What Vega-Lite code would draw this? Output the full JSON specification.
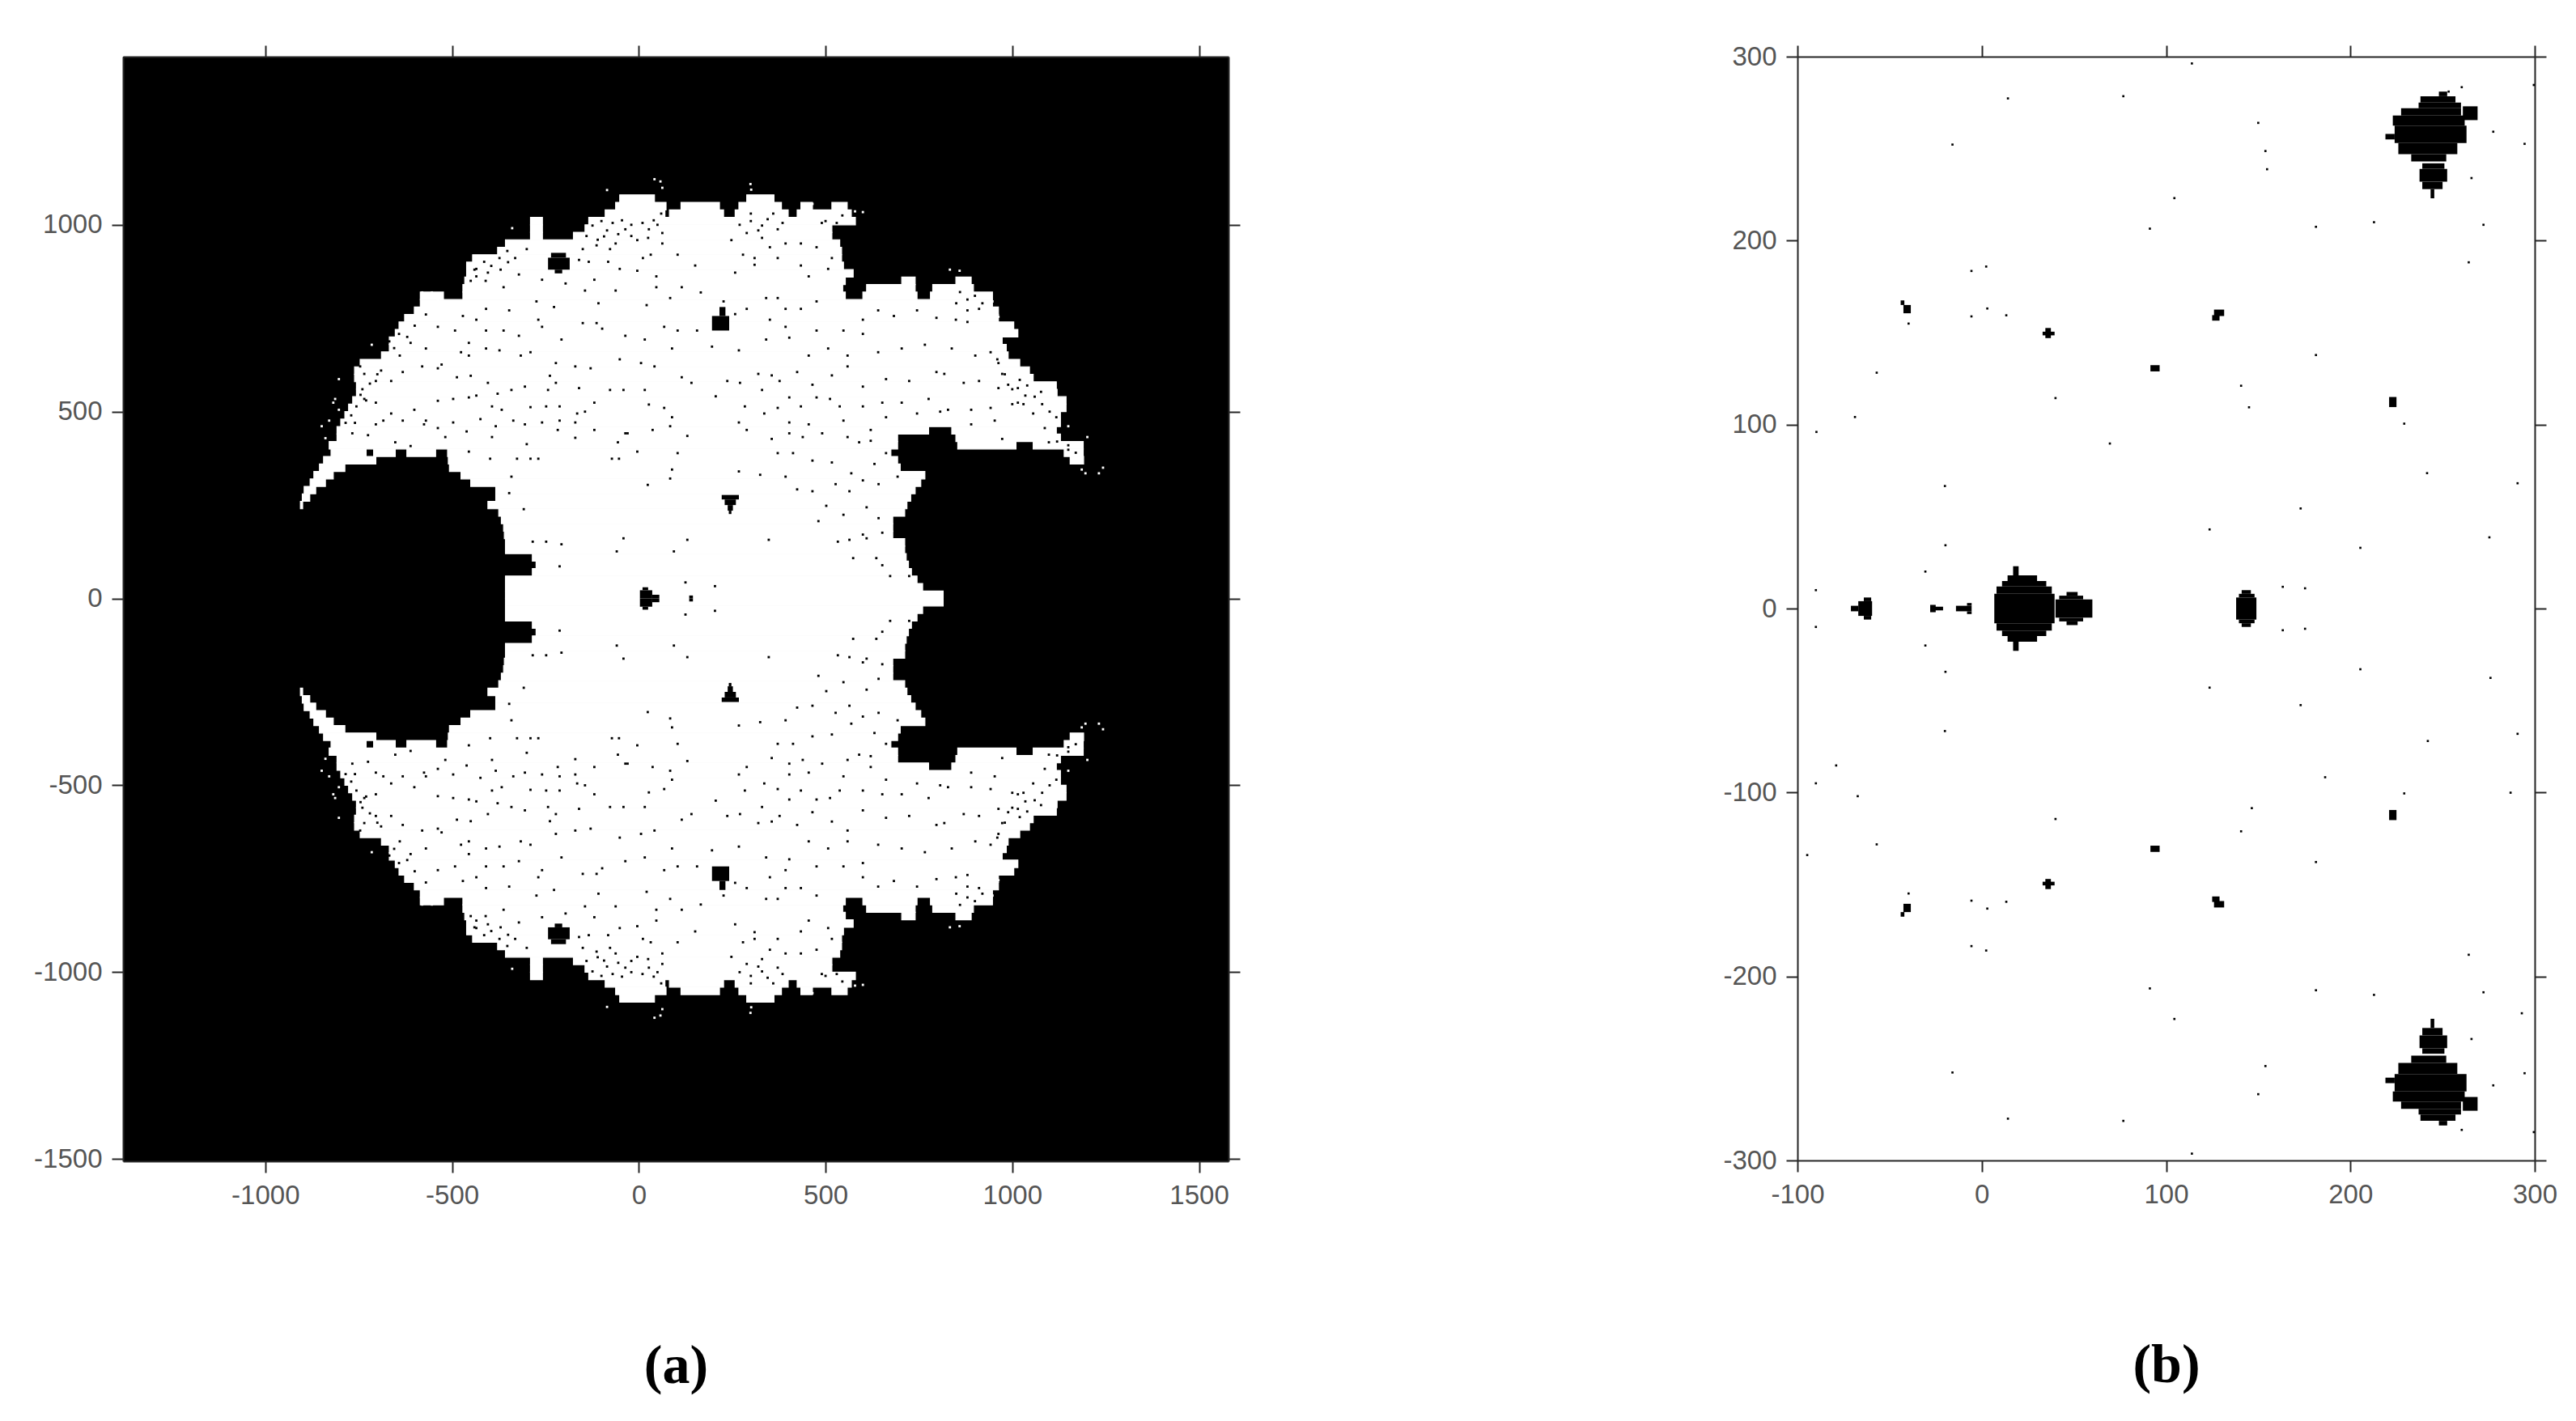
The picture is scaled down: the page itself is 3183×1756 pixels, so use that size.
{"$schema":"https://vega.github.io/schema/vega-lite/v6.json","background":"white","padding":{"left":41,"top":54,"right":10,"bottom":10},"bounds":"flush","spacing":703,
"config":{"axis":{"grid":false,"domainColor":"#262626","tickColor":"#262626","domainWidth":2,"tickWidth":2,"tickSize":14,"labelColor":"#555555","labelFont":"Liberation Sans","labelFontSize":33,"labelPadding":12,"labelFlush":false,"labelOverlap":false,"format":"d","titleFont":"Liberation Serif","titleFontWeight":"bold","titleFontSize":68,"titleColor":"#000000","titlePadding":160}},
"datasets":{
"a_white":[
{"x":-357,"x2":815,"y":0,"y2":20},{"x":-357,"x2":760,"y":20,"y2":40},{"x":-357,"x2":745,"y":40,"y2":60},{"x":-285,"x2":730,"y":60,"y2":80},{"x":-275,"x2":722,"y":80,"y2":100},{"x":-285,"x2":716,"y":100,"y2":120},{"x":-357,"x2":712,"y":120,"y2":140},{"x":-357,"x2":712,"y":140,"y2":160},{"x":-360,"x2":680,"y":160,"y2":180},{"x":-362,"x2":680,"y":180,"y2":200},{"x":-368,"x2":680,"y":200,"y2":220},{"x":-375,"x2":712,"y":220,"y2":240},{"x":-404,"x2":718,"y":240,"y2":260},{"x":-906,"x2":-900,"y":240,"y2":260},{"x":-383,"x2":728,"y":260,"y2":280},{"x":-901,"x2":-881,"y":260,"y2":280},{"x":-383,"x2":740,"y":280,"y2":300},{"x":-896,"x2":-865,"y":280,"y2":300},{"x":-450,"x2":755,"y":300,"y2":320},{"x":-880,"x2":-839,"y":300,"y2":320},{"x":-476,"x2":766,"y":320,"y2":340},{"x":-870,"x2":-818,"y":320,"y2":340},{"x":-507,"x2":700,"y":340,"y2":360},{"x":-855,"x2":-787,"y":340,"y2":360},{"x":-510,"x2":693,"y":360,"y2":380},{"x":-844,"x2":-704,"y":360,"y2":380},{"x":1155,"x2":1191,"y":360,"y2":380},{"x":-512,"x2":675,"y":380,"y2":400},{"x":-621,"x2":-544,"y":380,"y2":400},{"x":-710,"x2":-652,"y":380,"y2":400},{"x":-824,"x2":-730,"y":380,"y2":400},{"x":1139,"x2":1190,"y":380,"y2":400},{"x":-829,"x2":693,"y":400,"y2":420},{"x":854,"x2":1010,"y":400,"y2":420},{"x":1056,"x2":1190,"y":400,"y2":420},{"x":-808,"x2":693,"y":420,"y2":440},{"x":849,"x2":1129,"y":420,"y2":440},{"x":-808,"x2":776,"y":440,"y2":460},{"x":838,"x2":1118,"y":440,"y2":460},{"x":-798,"x2":1129,"y":460,"y2":480},{"x":-787,"x2":1129,"y":480,"y2":500},{"x":-777,"x2":1144,"y":500,"y2":520},{"x":-766,"x2":1144,"y":520,"y2":540},{"x":-756,"x2":1120,"y":540,"y2":560},{"x":-756,"x2":1118,"y":560,"y2":580},{"x":-761,"x2":1056,"y":580,"y2":600},{"x":-761,"x2":1046,"y":600,"y2":620},{"x":-746,"x2":1020,"y":620,"y2":640},{"x":-689,"x2":989,"y":640,"y2":660},{"x":-668,"x2":984,"y":660,"y2":680},{"x":-668,"x2":973,"y":680,"y2":700},{"x":-652,"x2":1015,"y":700,"y2":720},{"x":-642,"x2":1004,"y":720,"y2":740},{"x":-627,"x2":963,"y":740,"y2":760},{"x":-601,"x2":963,"y":760,"y2":780},{"x":-585,"x2":947,"y":780,"y2":800},{"x":-585,"x2":-523,"y":800,"y2":820},{"x":-471,"x2":553,"y":800,"y2":820},{"x":600,"x2":745,"y":800,"y2":820},{"x":781,"x2":947,"y":800,"y2":820},{"x":-471,"x2":546,"y":820,"y2":840},{"x":610,"x2":740,"y":820,"y2":840},{"x":787,"x2":896,"y":820,"y2":840},{"x":-466,"x2":553,"y":840,"y2":860},{"x":704,"x2":740,"y":840,"y2":860},{"x":849,"x2":890,"y":840,"y2":860},{"x":-461,"x2":574,"y":860,"y2":880},{"x":-461,"x2":548,"y":880,"y2":900},{"x":-445,"x2":543,"y":900,"y2":920},{"x":-378,"x2":543,"y":920,"y2":940},{"x":-357,"x2":538,"y":940,"y2":960},{"x":-290,"x2":-258,"y":960,"y2":980},{"x":-175,"x2":517,"y":960,"y2":980},{"x":-290,"x2":-258,"y":980,"y2":1000},{"x":-144,"x2":517,"y":980,"y2":1000},{"x":-290,"x2":-258,"y":1000,"y2":1020},{"x":-134,"x2":580,"y":1000,"y2":1020},{"x":-90,"x2":70,"y":1020,"y2":1040},{"x":82,"x2":227,"y":1020,"y2":1040},{"x":258,"x2":400,"y":1020,"y2":1040},{"x":424,"x2":569,"y":1020,"y2":1040},{"x":-62,"x2":73,"y":1040,"y2":1060},{"x":113,"x2":216,"y":1040,"y2":1060},{"x":268,"x2":382,"y":1040,"y2":1060},{"x":434,"x2":465,"y":1040,"y2":1060},{"x":517,"x2":558,"y":1040,"y2":1060},{"x":-51,"x2":42,"y":1060,"y2":1080},{"x":289,"x2":362,"y":1060,"y2":1080},
{"x":-357,"x2":815,"y":0,"y2":-20},{"x":-357,"x2":760,"y":-20,"y2":-40},{"x":-357,"x2":745,"y":-40,"y2":-60},{"x":-285,"x2":730,"y":-60,"y2":-80},{"x":-275,"x2":722,"y":-80,"y2":-100},{"x":-285,"x2":716,"y":-100,"y2":-120},{"x":-357,"x2":712,"y":-120,"y2":-140},{"x":-357,"x2":712,"y":-140,"y2":-160},{"x":-360,"x2":680,"y":-160,"y2":-180},{"x":-362,"x2":680,"y":-180,"y2":-200},{"x":-368,"x2":680,"y":-200,"y2":-220},{"x":-375,"x2":712,"y":-220,"y2":-240},{"x":-404,"x2":718,"y":-240,"y2":-260},{"x":-906,"x2":-900,"y":-240,"y2":-260},{"x":-383,"x2":728,"y":-260,"y2":-280},{"x":-901,"x2":-881,"y":-260,"y2":-280},{"x":-383,"x2":740,"y":-280,"y2":-300},{"x":-896,"x2":-865,"y":-280,"y2":-300},{"x":-450,"x2":755,"y":-300,"y2":-320},{"x":-880,"x2":-839,"y":-300,"y2":-320},{"x":-476,"x2":766,"y":-320,"y2":-340},{"x":-870,"x2":-818,"y":-320,"y2":-340},{"x":-507,"x2":700,"y":-340,"y2":-360},{"x":-855,"x2":-787,"y":-340,"y2":-360},{"x":-510,"x2":693,"y":-360,"y2":-380},{"x":-844,"x2":-704,"y":-360,"y2":-380},{"x":1155,"x2":1191,"y":-360,"y2":-380},{"x":-512,"x2":675,"y":-380,"y2":-400},{"x":-621,"x2":-544,"y":-380,"y2":-400},{"x":-710,"x2":-652,"y":-380,"y2":-400},{"x":-824,"x2":-730,"y":-380,"y2":-400},{"x":1139,"x2":1190,"y":-380,"y2":-400},{"x":-829,"x2":693,"y":-400,"y2":-420},{"x":854,"x2":1010,"y":-400,"y2":-420},{"x":1056,"x2":1190,"y":-400,"y2":-420},{"x":-808,"x2":693,"y":-420,"y2":-440},{"x":849,"x2":1129,"y":-420,"y2":-440},{"x":-808,"x2":776,"y":-440,"y2":-460},{"x":838,"x2":1118,"y":-440,"y2":-460},{"x":-798,"x2":1129,"y":-460,"y2":-480},{"x":-787,"x2":1129,"y":-480,"y2":-500},{"x":-777,"x2":1144,"y":-500,"y2":-520},{"x":-766,"x2":1144,"y":-520,"y2":-540},{"x":-756,"x2":1120,"y":-540,"y2":-560},{"x":-756,"x2":1118,"y":-560,"y2":-580},{"x":-761,"x2":1056,"y":-580,"y2":-600},{"x":-761,"x2":1046,"y":-600,"y2":-620},{"x":-746,"x2":1020,"y":-620,"y2":-640},{"x":-689,"x2":989,"y":-640,"y2":-660},{"x":-668,"x2":984,"y":-660,"y2":-680},{"x":-668,"x2":973,"y":-680,"y2":-700},{"x":-652,"x2":1015,"y":-700,"y2":-720},{"x":-642,"x2":1004,"y":-720,"y2":-740},{"x":-627,"x2":963,"y":-740,"y2":-760},{"x":-601,"x2":963,"y":-760,"y2":-780},{"x":-585,"x2":947,"y":-780,"y2":-800},{"x":-585,"x2":-523,"y":-800,"y2":-820},{"x":-471,"x2":553,"y":-800,"y2":-820},{"x":600,"x2":745,"y":-800,"y2":-820},{"x":781,"x2":947,"y":-800,"y2":-820},{"x":-471,"x2":546,"y":-820,"y2":-840},{"x":610,"x2":740,"y":-820,"y2":-840},{"x":787,"x2":896,"y":-820,"y2":-840},{"x":-466,"x2":553,"y":-840,"y2":-860},{"x":704,"x2":740,"y":-840,"y2":-860},{"x":849,"x2":890,"y":-840,"y2":-860},{"x":-461,"x2":574,"y":-860,"y2":-880},{"x":-461,"x2":548,"y":-880,"y2":-900},{"x":-445,"x2":543,"y":-900,"y2":-920},{"x":-378,"x2":543,"y":-920,"y2":-940},{"x":-357,"x2":538,"y":-940,"y2":-960},{"x":-290,"x2":-258,"y":-960,"y2":-980},{"x":-175,"x2":517,"y":-960,"y2":-980},{"x":-290,"x2":-258,"y":-980,"y2":-1000},{"x":-144,"x2":517,"y":-980,"y2":-1000},{"x":-290,"x2":-258,"y":-1000,"y2":-1020},{"x":-134,"x2":580,"y":-1000,"y2":-1020},{"x":-90,"x2":70,"y":-1020,"y2":-1040},{"x":82,"x2":227,"y":-1020,"y2":-1040},{"x":258,"x2":400,"y":-1020,"y2":-1040},{"x":424,"x2":569,"y":-1020,"y2":-1040},{"x":-62,"x2":73,"y":-1040,"y2":-1060},{"x":113,"x2":216,"y":-1040,"y2":-1060},{"x":268,"x2":382,"y":-1040,"y2":-1060},{"x":434,"x2":465,"y":-1040,"y2":-1060},{"x":517,"x2":558,"y":-1040,"y2":-1060},{"x":-51,"x2":42,"y":-1060,"y2":-1080},{"x":289,"x2":362,"y":-1060,"y2":-1080}],
"a_black":[
{"x":-225,"x2":-205,"y":870,"y2":880},{"x":-243,"x2":-185,"y":880,"y2":912},{"x":-235,"x2":-195,"y":912,"y2":925},{"x":196,"x2":242,"y":717,"y2":756},{"x":216,"x2":232,"y":756,"y2":780},{"x":222,"x2":268,"y":265,"y2":277},{"x":230,"x2":260,"y":250,"y2":265},{"x":238,"x2":252,"y":235,"y2":250},{"x":241,"x2":248,"y":226,"y2":235},{"x":3,"x2":36,"y":0,"y2":22},{"x":10,"x2":25,"y":22,"y2":30},{"x":36,"x2":55,"y":0,"y2":10},{"x":135,"x2":145,"y":0,"y2":8},
{"x":-225,"x2":-205,"y":-870,"y2":-880},{"x":-243,"x2":-185,"y":-880,"y2":-912},{"x":-235,"x2":-195,"y":-912,"y2":-925},{"x":196,"x2":242,"y":-717,"y2":-756},{"x":216,"x2":232,"y":-756,"y2":-780},{"x":222,"x2":268,"y":-265,"y2":-277},{"x":230,"x2":260,"y":-250,"y2":-265},{"x":238,"x2":252,"y":-235,"y2":-250},{"x":241,"x2":248,"y":-226,"y2":-235},{"x":3,"x2":36,"y":0,"y2":-22},{"x":10,"x2":25,"y":-22,"y2":-30},{"x":36,"x2":55,"y":0,"y2":-10},{"x":135,"x2":145,"y":0,"y2":-8}],
"a_dots":[
{"x":-248,"y":152},{"x":-207,"y":145},{"x":-284,"y":152},{"x":-41,"y":161},{"x":-59,"y":126},{"x":130,"y":157},{"x":94,"y":126},{"x":125,"y":43},{"x":-212,"y":86},{"x":-308,"y":239},{"x":-347,"y":282},{"x":-341,"y":326},{"x":24,"y":304},{"x":84,"y":321},{"x":89,"y":345},{"x":104,"y":389},{"x":-4,"y":393},{"x":-56,"y":418},{"x":-36,"y":442},{"x":130,"y":435},{"x":-170,"y":430},{"x":-300,"y":413},{"x":-393,"y":432},{"x":-72,"y":374},{"x":-53,"y":374},{"x":-269,"y":374},{"x":-290,"y":374},{"x":-326,"y":374},{"x":-398,"y":374},{"x":-455,"y":393},{"x":-518,"y":432},{"x":-575,"y":466},{"x":-538,"y":456},{"x":-611,"y":408},{"x":-652,"y":418},{"x":-725,"y":437},{"x":-767,"y":442},{"x":-704,"y":466},{"x":-684,"y":476},{"x":-632,"y":476},{"x":-570,"y":476},{"x":-497,"y":471},{"x":-461,"y":447},{"x":-424,"y":480},{"x":-383,"y":461},{"x":-336,"y":476},{"x":-305,"y":466},{"x":-259,"y":471},{"x":-212,"y":476},{"x":-170,"y":471},{"x":-165,"y":495},{"x":-144,"y":500},{"x":-217,"y":451},{"x":-119,"y":451},{"x":-30,"y":442},{"x":37,"y":451},{"x":84,"y":461},{"x":89,"y":485},{"x":68,"y":510},{"x":27,"y":519},{"x":-119,"y":524},{"x":-212,"y":514},{"x":-248,"y":514},{"x":-290,"y":512},{"x":-367,"y":505},{"x":-393,"y":514},{"x":-455,"y":538},{"x":-497,"y":534},{"x":-538,"y":529},{"x":-601,"y":505},{"x":-663,"y":495},{"x":-704,"y":524},{"x":-735,"y":534},{"x":-756,"y":514},{"x":-238,"y":596},{"x":-222,"y":577},{"x":-243,"y":558},{"x":-305,"y":567},{"x":-341,"y":558},{"x":-378,"y":548},{"x":-435,"y":543},{"x":-404,"y":577},{"x":-450,"y":596},{"x":-487,"y":592},{"x":-538,"y":616},{"x":-580,"y":621},{"x":-632,"y":606},{"x":-663,"y":582},{"x":-704,"y":582},{"x":-735,"y":601},{"x":-746,"y":621},{"x":-160,"y":563},{"x":-77,"y":558},{"x":-41,"y":558},{"x":16,"y":558},{"x":115,"y":592},{"x":141,"y":577},{"x":42,"y":621},{"x":6,"y":630},{"x":-51,"y":640},{"x":-129,"y":616},{"x":-170,"y":621},{"x":-222,"y":630},{"x":-290,"y":659},{"x":-316,"y":650},{"x":-373,"y":664},{"x":-409,"y":669},{"x":-455,"y":650},{"x":-476,"y":659},{"x":-528,"y":626},{"x":-570,"y":669},{"x":-611,"y":684},{"x":-642,"y":708},{"x":-668,"y":688},{"x":89,"y":669},{"x":104,"y":717},{"x":156,"y":717},{"x":68,"y":727},{"x":16,"y":693},{"x":-36,"y":703},{"x":-98,"y":722},{"x":-113,"y":737},{"x":-150,"y":737},{"x":-207,"y":693},{"x":-259,"y":727},{"x":-269,"y":746},{"x":-321,"y":703},{"x":-362,"y":717},{"x":-409,"y":717},{"x":-455,"y":684},{"x":-492,"y":717},{"x":-538,"y":727},{"x":-227,"y":780},{"x":-274,"y":795},{"x":-347,"y":771},{"x":-409,"y":775},{"x":-435,"y":746},{"x":-471,"y":756},{"x":-108,"y":790},{"x":-62,"y":824},{"x":21,"y":785},{"x":84,"y":804},{"x":115,"y":833},{"x":166,"y":819},{"x":47,"y":833},{"x":-119,"y":853},{"x":-144,"y":824},{"x":-196,"y":843},{"x":-259,"y":853},{"x":-321,"y":867},{"x":-362,"y":833},{"x":-435,"y":862},{"x":-51,"y":882},{"x":47,"y":862},{"x":-4,"y":877},{"x":151,"y":891},{"x":104,"y":920},{"x":11,"y":911},{"x":-82,"y":901},{"x":-134,"y":901},{"x":-160,"y":906},{"x":-124,"y":998},{"x":-93,"y":969},{"x":-62,"y":950},{"x":-36,"y":988},{"x":-4,"y":959},{"x":27,"y":988},{"x":63,"y":978},{"x":63,"y":950},{"x":32,"y":920},{"x":-77,"y":935},{"x":-113,"y":945},{"x":-150,"y":935},{"x":-300,"y":935},{"x":-331,"y":911},{"x":-373,"y":911},{"x":-414,"y":901},{"x":-435,"y":882},{"x":-404,"y":872},{"x":-352,"y":930},
{"x":206,"y":541},{"x":237,"y":582},{"x":271,"y":577},{"x":320,"y":601},{"x":356,"y":597},{"x":377,"y":582},{"x":424,"y":606},{"x":465,"y":572},{"x":517,"y":597},{"x":559,"y":621},{"x":600,"y":567},{"x":662,"y":587},{"x":724,"y":582},{"x":797,"y":606},{"x":818,"y":601},{"x":870,"y":577},{"x":911,"y":582},{"x":963,"y":563},{"x":330,"y":558},{"x":403,"y":538},{"x":476,"y":538},{"x":512,"y":534},{"x":372,"y":510},{"x":434,"y":514},{"x":538,"y":514},{"x":600,"y":514},{"x":652,"y":524},{"x":704,"y":524},{"x":776,"y":534},{"x":828,"y":505},{"x":890,"y":505},{"x":942,"y":510},{"x":284,"y":514},{"x":336,"y":495},{"x":403,"y":471},{"x":455,"y":466},{"x":548,"y":476},{"x":621,"y":451},{"x":662,"y":485},{"x":745,"y":495},{"x":807,"y":500},{"x":890,"y":466},{"x":953,"y":476},{"x":973,"y":427},{"x":268,"y":471},{"x":289,"y":451},{"x":356,"y":427},{"x":403,"y":442},{"x":439,"y":432},{"x":491,"y":442},{"x":559,"y":432},{"x":590,"y":418},{"x":621,"y":422},{"x":372,"y":389},{"x":413,"y":389},{"x":465,"y":369},{"x":517,"y":364},{"x":569,"y":335},{"x":631,"y":360},{"x":662,"y":389},{"x":268,"y":340},{"x":325,"y":331},{"x":393,"y":326},{"x":424,"y":292},{"x":465,"y":287},{"x":527,"y":306},{"x":564,"y":287},{"x":600,"y":316},{"x":642,"y":306},{"x":693,"y":326},{"x":502,"y":248},{"x":548,"y":224},{"x":610,"y":244},{"x":642,"y":215},{"x":481,"y":207},{"x":600,"y":171},{"x":533,"y":152},{"x":564,"y":157},{"x":610,"y":161},{"x":652,"y":176},{"x":574,"y":108},{"x":636,"y":108},{"x":652,"y":89},{"x":673,"y":60},{"x":724,"y":60},{"x":348,"y":157},{"x":204,"y":33},{"x":227,"y":795},{"x":289,"y":775},{"x":258,"y":761},{"x":341,"y":804},{"x":372,"y":804},{"x":393,"y":775},{"x":434,"y":775},{"x":476,"y":795},{"x":351,"y":746},{"x":393,"y":727},{"x":476,"y":717},{"x":548,"y":717},{"x":600,"y":708},{"x":196,"y":674},{"x":268,"y":664},{"x":341,"y":693},{"x":403,"y":698},{"x":455,"y":650},{"x":507,"y":669},{"x":559,"y":650},{"x":600,"y":746},{"x":641,"y":771},{"x":683,"y":756},{"x":745,"y":771},{"x":797,"y":751},{"x":849,"y":746},{"x":880,"y":771},{"x":911,"y":775},{"x":641,"y":659},{"x":704,"y":669},{"x":766,"y":679},{"x":838,"y":669},{"x":901,"y":650},{"x":942,"y":659},{"x":963,"y":630},{"x":973,"y":601},{"x":989,"y":572},{"x":1015,"y":563},{"x":1035,"y":543},{"x":1077,"y":553},{"x":1015,"y":524},{"x":1056,"y":495},{"x":1087,"y":456},{"x":1118,"y":485},{"x":1098,"y":418},{"x":1150,"y":398},{"x":248,"y":959},{"x":289,"y":978},{"x":330,"y":998},{"x":372,"y":988},{"x":351,"y":940},{"x":310,"y":911},{"x":279,"y":920},{"x":393,"y":950},{"x":434,"y":950},{"x":476,"y":940},{"x":517,"y":911},{"x":507,"y":882},{"x":455,"y":862},{"x":434,"y":891},{"x":372,"y":911},{"x":310,"y":893},{"x":258,"y":872},
{"x":-100,"y":1010},{"x":-70,"y":1005},{"x":-45,"y":1012},{"x":-20,"y":1000},{"x":10,"y":1005},{"x":40,"y":1012},{"x":60,"y":1030},{"x":50,"y":1000},{"x":-85,"y":985},{"x":-55,"y":975},{"x":-20,"y":970},{"x":25,"y":965},{"x":300,"y":1010},{"x":320,"y":985},{"x":345,"y":1015},{"x":360,"y":1030},{"x":385,"y":1005},{"x":300,"y":1030},{"x":270,"y":1000},{"x":330,"y":965},{"x":500,"y":1010},{"x":530,"y":1005},{"x":545,"y":1025},{"x":490,"y":1005},{"x":-110,"y":960},{"x":-140,"y":970},{"x":-740,"y":560},{"x":-720,"y":575},{"x":-700,"y":600},{"x":-690,"y":610},{"x":-730,"y":530},{"x":-745,"y":545},{"x":-770,"y":490},{"x":-760,"y":470},{"x":-785,"y":470},{"x":-640,"y":650},{"x":-655,"y":670},{"x":-620,"y":700},{"x":-600,"y":730},{"x":-570,"y":760},{"x":-440,"y":880},{"x":-450,"y":850},{"x":-410,"y":850},{"x":-395,"y":890},{"x":-370,"y":880},{"x":-350,"y":900},{"x":1000,"y":560},{"x":1020,"y":585},{"x":1040,"y":570},{"x":1060,"y":540},{"x":1080,"y":520},{"x":1100,"y":500},{"x":1030,"y":520},{"x":1000,"y":520},{"x":980,"y":600},{"x":960,"y":640},{"x":850,"y":790},{"x":880,"y":800},{"x":900,"y":810},{"x":920,"y":790},{"x":860,"y":820},{"x":880,"y":740},{"x":1120,"y":420},{"x":1150,"y":410},{"x":1170,"y":390},
{"x":-248,"y":-152},{"x":-207,"y":-145},{"x":-284,"y":-152},{"x":-41,"y":-161},{"x":-59,"y":-126},{"x":130,"y":-157},{"x":94,"y":-126},{"x":125,"y":-43},{"x":-212,"y":-86},{"x":-308,"y":-239},{"x":-347,"y":-282},{"x":-341,"y":-326},{"x":24,"y":-304},{"x":84,"y":-321},{"x":89,"y":-345},{"x":104,"y":-389},{"x":-4,"y":-393},{"x":-56,"y":-418},{"x":-36,"y":-442},{"x":130,"y":-435},{"x":-170,"y":-430},{"x":-300,"y":-413},{"x":-393,"y":-432},{"x":-72,"y":-374},{"x":-53,"y":-374},{"x":-269,"y":-374},{"x":-290,"y":-374},{"x":-326,"y":-374},{"x":-398,"y":-374},{"x":-455,"y":-393},{"x":-518,"y":-432},{"x":-575,"y":-466},{"x":-538,"y":-456},{"x":-611,"y":-408},{"x":-652,"y":-418},{"x":-725,"y":-437},{"x":-767,"y":-442},{"x":-704,"y":-466},{"x":-684,"y":-476},{"x":-632,"y":-476},{"x":-570,"y":-476},{"x":-497,"y":-471},{"x":-461,"y":-447},{"x":-424,"y":-480},{"x":-383,"y":-461},{"x":-336,"y":-476},{"x":-305,"y":-466},{"x":-259,"y":-471},{"x":-212,"y":-476},{"x":-170,"y":-471},{"x":-165,"y":-495},{"x":-144,"y":-500},{"x":-217,"y":-451},{"x":-119,"y":-451},{"x":-30,"y":-442},{"x":37,"y":-451},{"x":84,"y":-461},{"x":89,"y":-485},{"x":68,"y":-510},{"x":27,"y":-519},{"x":-119,"y":-524},{"x":-212,"y":-514},{"x":-248,"y":-514},{"x":-290,"y":-512},{"x":-367,"y":-505},{"x":-393,"y":-514},{"x":-455,"y":-538},{"x":-497,"y":-534},{"x":-538,"y":-529},{"x":-601,"y":-505},{"x":-663,"y":-495},{"x":-704,"y":-524},{"x":-735,"y":-534},{"x":-756,"y":-514},{"x":-238,"y":-596},{"x":-222,"y":-577},{"x":-243,"y":-558},{"x":-305,"y":-567},{"x":-341,"y":-558},{"x":-378,"y":-548},{"x":-435,"y":-543},{"x":-404,"y":-577},{"x":-450,"y":-596},{"x":-487,"y":-592},{"x":-538,"y":-616},{"x":-580,"y":-621},{"x":-632,"y":-606},{"x":-663,"y":-582},{"x":-704,"y":-582},{"x":-735,"y":-601},{"x":-746,"y":-621},{"x":-160,"y":-563},{"x":-77,"y":-558},{"x":-41,"y":-558},{"x":16,"y":-558},{"x":115,"y":-592},{"x":141,"y":-577},{"x":42,"y":-621},{"x":6,"y":-630},{"x":-51,"y":-640},{"x":-129,"y":-616},{"x":-170,"y":-621},{"x":-222,"y":-630},{"x":-290,"y":-659},{"x":-316,"y":-650},{"x":-373,"y":-664},{"x":-409,"y":-669},{"x":-455,"y":-650},{"x":-476,"y":-659},{"x":-528,"y":-626},{"x":-570,"y":-669},{"x":-611,"y":-684},{"x":-642,"y":-708},{"x":-668,"y":-688},{"x":89,"y":-669},{"x":104,"y":-717},{"x":156,"y":-717},{"x":68,"y":-727},{"x":16,"y":-693},{"x":-36,"y":-703},{"x":-98,"y":-722},{"x":-113,"y":-737},{"x":-150,"y":-737},{"x":-207,"y":-693},{"x":-259,"y":-727},{"x":-269,"y":-746},{"x":-321,"y":-703},{"x":-362,"y":-717},{"x":-409,"y":-717},{"x":-455,"y":-684},{"x":-492,"y":-717},{"x":-538,"y":-727},{"x":-227,"y":-780},{"x":-274,"y":-795},{"x":-347,"y":-771},{"x":-409,"y":-775},{"x":-435,"y":-746},{"x":-471,"y":-756},{"x":-108,"y":-790},{"x":-62,"y":-824},{"x":21,"y":-785},{"x":84,"y":-804},{"x":115,"y":-833},{"x":166,"y":-819},{"x":47,"y":-833},{"x":-119,"y":-853},{"x":-144,"y":-824},{"x":-196,"y":-843},{"x":-259,"y":-853},{"x":-321,"y":-867},{"x":-362,"y":-833},{"x":-435,"y":-862},{"x":-51,"y":-882},{"x":47,"y":-862},{"x":-4,"y":-877},{"x":151,"y":-891},{"x":104,"y":-920},{"x":11,"y":-911},{"x":-82,"y":-901},{"x":-134,"y":-901},{"x":-160,"y":-906},{"x":-124,"y":-998},{"x":-93,"y":-969},{"x":-62,"y":-950},{"x":-36,"y":-988},{"x":-4,"y":-959},{"x":27,"y":-988},{"x":63,"y":-978},{"x":63,"y":-950},{"x":32,"y":-920},{"x":-77,"y":-935},{"x":-113,"y":-945},{"x":-150,"y":-935},{"x":-300,"y":-935},{"x":-331,"y":-911},{"x":-373,"y":-911},{"x":-414,"y":-901},{"x":-435,"y":-882},{"x":-404,"y":-872},{"x":-352,"y":-930},
{"x":206,"y":-541},{"x":237,"y":-582},{"x":271,"y":-577},{"x":320,"y":-601},{"x":356,"y":-597},{"x":377,"y":-582},{"x":424,"y":-606},{"x":465,"y":-572},{"x":517,"y":-597},{"x":559,"y":-621},{"x":600,"y":-567},{"x":662,"y":-587},{"x":724,"y":-582},{"x":797,"y":-606},{"x":818,"y":-601},{"x":870,"y":-577},{"x":911,"y":-582},{"x":963,"y":-563},{"x":330,"y":-558},{"x":403,"y":-538},{"x":476,"y":-538},{"x":512,"y":-534},{"x":372,"y":-510},{"x":434,"y":-514},{"x":538,"y":-514},{"x":600,"y":-514},{"x":652,"y":-524},{"x":704,"y":-524},{"x":776,"y":-534},{"x":828,"y":-505},{"x":890,"y":-505},{"x":942,"y":-510},{"x":284,"y":-514},{"x":336,"y":-495},{"x":403,"y":-471},{"x":455,"y":-466},{"x":548,"y":-476},{"x":621,"y":-451},{"x":662,"y":-485},{"x":745,"y":-495},{"x":807,"y":-500},{"x":890,"y":-466},{"x":953,"y":-476},{"x":973,"y":-427},{"x":268,"y":-471},{"x":289,"y":-451},{"x":356,"y":-427},{"x":403,"y":-442},{"x":439,"y":-432},{"x":491,"y":-442},{"x":559,"y":-432},{"x":590,"y":-418},{"x":621,"y":-422},{"x":372,"y":-389},{"x":413,"y":-389},{"x":465,"y":-369},{"x":517,"y":-364},{"x":569,"y":-335},{"x":631,"y":-360},{"x":662,"y":-389},{"x":268,"y":-340},{"x":325,"y":-331},{"x":393,"y":-326},{"x":424,"y":-292},{"x":465,"y":-287},{"x":527,"y":-306},{"x":564,"y":-287},{"x":600,"y":-316},{"x":642,"y":-306},{"x":693,"y":-326},{"x":502,"y":-248},{"x":548,"y":-224},{"x":610,"y":-244},{"x":642,"y":-215},{"x":481,"y":-207},{"x":600,"y":-171},{"x":533,"y":-152},{"x":564,"y":-157},{"x":610,"y":-161},{"x":652,"y":-176},{"x":574,"y":-108},{"x":636,"y":-108},{"x":652,"y":-89},{"x":673,"y":-60},{"x":724,"y":-60},{"x":348,"y":-157},{"x":204,"y":-33},{"x":227,"y":-795},{"x":289,"y":-775},{"x":258,"y":-761},{"x":341,"y":-804},{"x":372,"y":-804},{"x":393,"y":-775},{"x":434,"y":-775},{"x":476,"y":-795},{"x":351,"y":-746},{"x":393,"y":-727},{"x":476,"y":-717},{"x":548,"y":-717},{"x":600,"y":-708},{"x":196,"y":-674},{"x":268,"y":-664},{"x":341,"y":-693},{"x":403,"y":-698},{"x":455,"y":-650},{"x":507,"y":-669},{"x":559,"y":-650},{"x":600,"y":-746},{"x":641,"y":-771},{"x":683,"y":-756},{"x":745,"y":-771},{"x":797,"y":-751},{"x":849,"y":-746},{"x":880,"y":-771},{"x":911,"y":-775},{"x":641,"y":-659},{"x":704,"y":-669},{"x":766,"y":-679},{"x":838,"y":-669},{"x":901,"y":-650},{"x":942,"y":-659},{"x":963,"y":-630},{"x":973,"y":-601},{"x":989,"y":-572},{"x":1015,"y":-563},{"x":1035,"y":-543},{"x":1077,"y":-553},{"x":1015,"y":-524},{"x":1056,"y":-495},{"x":1087,"y":-456},{"x":1118,"y":-485},{"x":1098,"y":-418},{"x":1150,"y":-398},{"x":248,"y":-959},{"x":289,"y":-978},{"x":330,"y":-998},{"x":372,"y":-988},{"x":351,"y":-940},{"x":310,"y":-911},{"x":279,"y":-920},{"x":393,"y":-950},{"x":434,"y":-950},{"x":476,"y":-940},{"x":517,"y":-911},{"x":507,"y":-882},{"x":455,"y":-862},{"x":434,"y":-891},{"x":372,"y":-911},{"x":310,"y":-893},{"x":258,"y":-872},
{"x":-100,"y":-1010},{"x":-70,"y":-1005},{"x":-45,"y":-1012},{"x":-20,"y":-1000},{"x":10,"y":-1005},{"x":40,"y":-1012},{"x":60,"y":-1030},{"x":50,"y":-1000},{"x":-85,"y":-985},{"x":-55,"y":-975},{"x":-20,"y":-970},{"x":25,"y":-965},{"x":300,"y":-1010},{"x":320,"y":-985},{"x":345,"y":-1015},{"x":360,"y":-1030},{"x":385,"y":-1005},{"x":300,"y":-1030},{"x":270,"y":-1000},{"x":330,"y":-965},{"x":500,"y":-1010},{"x":530,"y":-1005},{"x":545,"y":-1025},{"x":490,"y":-1005},{"x":-110,"y":-960},{"x":-140,"y":-970},{"x":-740,"y":-560},{"x":-720,"y":-575},{"x":-700,"y":-600},{"x":-690,"y":-610},{"x":-730,"y":-530},{"x":-745,"y":-545},{"x":-770,"y":-490},{"x":-760,"y":-470},{"x":-785,"y":-470},{"x":-640,"y":-650},{"x":-655,"y":-670},{"x":-620,"y":-700},{"x":-600,"y":-730},{"x":-570,"y":-760},{"x":-440,"y":-880},{"x":-450,"y":-850},{"x":-410,"y":-850},{"x":-395,"y":-890},{"x":-370,"y":-880},{"x":-350,"y":-900},{"x":1000,"y":-560},{"x":1020,"y":-585},{"x":1040,"y":-570},{"x":1060,"y":-540},{"x":1080,"y":-520},{"x":1100,"y":-500},{"x":1030,"y":-520},{"x":1000,"y":-520},{"x":980,"y":-600},{"x":960,"y":-640},{"x":850,"y":-790},{"x":880,"y":-800},{"x":900,"y":-810},{"x":920,"y":-790},{"x":860,"y":-820},{"x":880,"y":-740},{"x":1120,"y":-420},{"x":1150,"y":-410},{"x":1170,"y":-390}],
"a_wdots":[
{"x":-803,"y":587},{"x":-715,"y":679},{"x":-849,"y":461},{"x":-839,"y":429},{"x":-829,"y":476},{"x":-813,"y":534},{"x":-803,"y":505},{"x":-818,"y":524},{"x":-580,"y":819},{"x":-554,"y":819},{"x":-538,"y":800},{"x":-339,"y":991},{"x":-85,"y":1093},{"x":42,"y":1122},{"x":63,"y":1099},{"x":58,"y":1116},{"x":299,"y":1109},{"x":301,"y":1094},{"x":465,"y":1056},{"x":600,"y":1034},{"x":579,"y":1036},{"x":833,"y":880},{"x":859,"y":877},{"x":947,"y":795},{"x":963,"y":754},{"x":1150,"y":461},{"x":1201,"y":432},{"x":1186,"y":345},{"x":1196,"y":335},{"x":1232,"y":335},{"x":1243,"y":350},{"x":1170,"y":379},
{"x":-803,"y":-587},{"x":-715,"y":-679},{"x":-849,"y":-461},{"x":-839,"y":-429},{"x":-829,"y":-476},{"x":-813,"y":-534},{"x":-803,"y":-505},{"x":-818,"y":-524},{"x":-580,"y":-819},{"x":-554,"y":-819},{"x":-538,"y":-800},{"x":-339,"y":-991},{"x":-85,"y":-1093},{"x":42,"y":-1122},{"x":63,"y":-1099},{"x":58,"y":-1116},{"x":299,"y":-1109},{"x":301,"y":-1094},{"x":465,"y":-1056},{"x":600,"y":-1034},{"x":579,"y":-1036},{"x":833,"y":-880},{"x":859,"y":-877},{"x":947,"y":-795},{"x":963,"y":-754},{"x":1150,"y":-461},{"x":1201,"y":-432},{"x":1186,"y":-345},{"x":1196,"y":-335},{"x":1232,"y":-335},{"x":1243,"y":-350},{"x":1170,"y":-379}],
"b_black":[
{"x":248,"x2":252.5,"y":278.5,"y2":281},{"x":238,"x2":257,"y":275,"y2":278.5},{"x":237,"x2":260,"y":272,"y2":275},{"x":227.5,"x2":260,"y":268,"y2":272},{"x":261,"x2":269,"y":265.5,"y2":273},{"x":223,"x2":262,"y":262.5,"y2":268},{"x":224,"x2":263,"y":253,"y2":262.5},{"x":219,"x2":224,"y":255,"y2":258},{"x":226,"x2":258,"y":247,"y2":253},{"x":233,"x2":252,"y":243,"y2":247},{"x":239,"x2":251,"y":239,"y2":242},{"x":237.5,"x2":252.5,"y":232,"y2":239},{"x":239,"x2":250,"y":228,"y2":232},{"x":243.5,"x2":245.5,"y":223,"y2":228},
{"x":248,"x2":252.5,"y":-278.5,"y2":-281},{"x":238,"x2":257,"y":-275,"y2":-278.5},{"x":237,"x2":260,"y":-272,"y2":-275},{"x":227.5,"x2":260,"y":-268,"y2":-272},{"x":261,"x2":269,"y":-265.5,"y2":-273},{"x":223,"x2":262,"y":-262.5,"y2":-268},{"x":224,"x2":263,"y":-253,"y2":-262.5},{"x":219,"x2":224,"y":-255,"y2":-258},{"x":226,"x2":258,"y":-247,"y2":-253},{"x":233,"x2":252,"y":-243,"y2":-247},{"x":239,"x2":251,"y":-239,"y2":-242},{"x":237.5,"x2":252.5,"y":-232,"y2":-239},{"x":239,"x2":250,"y":-228,"y2":-232},{"x":243.5,"x2":245.5,"y":-223,"y2":-228},
{"x":6.8,"x2":39.5,"y":-8,"y2":8},{"x":8,"x2":38,"y":8,"y2":12},{"x":8,"x2":38,"y":-8,"y2":-12},{"x":11,"x2":35,"y":12,"y2":15},{"x":11,"x2":35,"y":-12,"y2":-15},{"x":14,"x2":30,"y":15,"y2":18},{"x":14,"x2":30,"y":-15,"y2":-18},{"x":17,"x2":20,"y":18,"y2":23},{"x":17,"x2":20,"y":-18,"y2":-23},
{"x":40,"x2":60,"y":-5,"y2":5},{"x":42,"x2":55,"y":5,"y2":7},{"x":42,"x2":55,"y":-5,"y2":-7},{"x":46,"x2":52,"y":7,"y2":9},{"x":46,"x2":52,"y":-7,"y2":-9},
{"x":138,"x2":149,"y":-6,"y2":6},{"x":139.5,"x2":148,"y":6,"y2":8},{"x":139.5,"x2":148,"y":-6,"y2":-8},{"x":141,"x2":146,"y":8,"y2":10},{"x":141,"x2":146,"y":-8,"y2":-10},
{"x":-67,"x2":-59.5,"y":-4,"y2":4},{"x":-64,"x2":-60,"y":4,"y2":6},{"x":-64,"x2":-60,"y":-4,"y2":-6},{"x":-71,"x2":-67,"y":-1.5,"y2":1.5},{"x":-28,"x2":-21,"y":-1,"y2":1},{"x":-28,"x2":-25,"y":-2,"y2":2},{"x":-14,"x2":-5.5,"y":-1.5,"y2":1.5},{"x":-8,"x2":-5.5,"y":1.5,"y2":3},{"x":-8,"x2":-5.5,"y":-1.5,"y2":-3},
{"x":-42.5,"x2":-38.5,"y":160.5,"y2":165},{"x":-44,"x2":-42,"y":165,"y2":167.5},{"x":126,"x2":131.5,"y":159,"y2":162.5},{"x":125,"x2":129,"y":156.5,"y2":159.5},{"x":33,"x2":39.5,"y":148.5,"y2":150.5},{"x":34.5,"x2":37.5,"y":147,"y2":152.5},{"x":91.5,"x2":96.5,"y":128.9,"y2":132.3},{"x":221,"x2":225,"y":109.5,"y2":115},
{"x":-42.5,"x2":-38.5,"y":-160.5,"y2":-165},{"x":-44,"x2":-42,"y":-165,"y2":-167.5},{"x":126,"x2":131.5,"y":-159,"y2":-162.5},{"x":125,"x2":129,"y":-156.5,"y2":-159.5},{"x":33,"x2":39.5,"y":-148.5,"y2":-150.5},{"x":34.5,"x2":37.5,"y":-147,"y2":-152.5},{"x":91.5,"x2":96.5,"y":-128.9,"y2":-132.3},{"x":221,"x2":225,"y":-109.5,"y2":-115}],
"b_dots":[
{"x":205.4,"y":33},{"x":123.6,"y":43},{"x":173,"y":54.4},{"x":241.6,"y":73.6},{"x":-20,"y":66.6},{"x":275.4,"y":38.7},{"x":294.5,"y":252.6},{"x":290.7,"y":68.1},{"x":114,"y":296.3},{"x":14.2,"y":277.3},{"x":76.8,"y":278.5},{"x":-15.9,"y":252.2},{"x":150,"y":264},{"x":153.9,"y":248.7},{"x":154.8,"y":238.8},{"x":104.5,"y":223.1},{"x":91.2,"y":206.5},{"x":181.3,"y":207.5},{"x":212.8,"y":210},{"x":272.2,"y":208.6},{"x":264.2,"y":188.2},{"x":265.7,"y":234},{"x":277.5,"y":259.2},{"x":260.4,"y":283.4},{"x":253.3,"y":281},{"x":299.5,"y":284.6},{"x":-5.6,"y":183.5},{"x":2.4,"y":185.9},{"x":3,"y":163.1},{"x":-5.6,"y":158.8},{"x":13.3,"y":159.4},{"x":-39.7,"y":154.9},{"x":-57,"y":128.2},{"x":181.3,"y":137.8},{"x":140.7,"y":121.1},{"x":145,"y":109.4},{"x":40,"y":114.4},{"x":-68.8,"y":104.1},{"x":-89.7,"y":96},{"x":69.5,"y":89.7},{"x":229.2,"y":100.5},{"x":-19.7,"y":34.4},{"x":-30.6,"y":20.1},{"x":163.3,"y":11.8},{"x":175.4,"y":11},{"x":-90,"y":10},{"x":205.4,"y":-33},{"x":123.6,"y":-43},{"x":173,"y":-52.5},{"x":242,"y":-72},{"x":-20,"y":-66.6},{"x":276,"y":-37.7},{"x":294.5,"y":-252.6},{"x":290.7,"y":-68.1},{"x":114,"y":-296.3},{"x":14.2,"y":-277.3},{"x":76.8,"y":-278.5},{"x":-15.9,"y":-252.2},{"x":150,"y":-264},{"x":153.9,"y":-248.7},{"x":104.5,"y":-223.1},{"x":91.2,"y":-206.5},{"x":181.3,"y":-207.5},{"x":212.8,"y":-210},{"x":272.2,"y":-208.6},{"x":264.2,"y":-188.2},{"x":265.7,"y":-234},{"x":277.5,"y":-259.2},{"x":260.4,"y":-283.4},{"x":299.5,"y":-284.6},{"x":-5.6,"y":-183.5},{"x":2.4,"y":-185.9},{"x":3,"y":-163.1},{"x":-5.6,"y":-158.8},{"x":13.3,"y":-159.4},{"x":-39.7,"y":-154.9},{"x":-57,"y":-128.2},{"x":181.3,"y":-137.8},{"x":140.7,"y":-121.1},{"x":146.5,"y":-108.5},{"x":40,"y":-114.4},{"x":-67.3,"y":-102},{"x":-90,"y":-95},{"x":-79,"y":-85.3},{"x":-94.7,"y":-134},{"x":186.3,"y":-91.7},{"x":286.9,"y":-100.1},{"x":293,"y":-220},{"x":229.2,"y":-100.5},{"x":-19.7,"y":-34.4},{"x":-30.6,"y":-20.1},{"x":163.3,"y":-11.8},{"x":175.4,"y":-11},{"x":-90,"y":-10}]
},
"hconcat":[
{"width":1366,"height":1365,"view":{"fill":"#000000","stroke":null},"resolve":{"axis":{"x":"independent","y":"independent"}},"layer":[
{"data":{"name":"a_white"},"mark":{"type":"rect","color":"#ffffff","stroke":"#ffffff","strokeWidth":1.2},"encoding":{"x":{"field":"x","type":"quantitative","scale":{"domain":[-1381,1579],"nice":false,"zero":false},"axis":{"orient":"bottom","values":[-1000,-500,0,500,1000,1500],"title":"(a)","labelExpr":"replace(datum.label,'−','-')"}},"x2":{"field":"x2"},"y":{"field":"y","type":"quantitative","scale":{"domain":[-1506,1450],"nice":false,"zero":false},"axis":{"orient":"left","values":[-1500,-1000,-500,0,500,1000],"title":null,"labelExpr":"replace(datum.label,'−','-')"}},"y2":{"field":"y2"}}},
{"data":{"name":"a_black"},"mark":{"type":"rect","color":"#000000"},"encoding":{"x":{"field":"x","type":"quantitative","axis":null,"scale":{"domain":[-1381,1579],"nice":false,"zero":false}},"x2":{"field":"x2"},"y":{"field":"y","type":"quantitative","axis":null,"scale":{"domain":[-1506,1450],"nice":false,"zero":false}},"y2":{"field":"y2"}}},
{"data":{"name":"a_wdots"},"mark":{"type":"square","size":8,"color":"#ffffff","opacity":1},"encoding":{"x":{"field":"x","type":"quantitative","axis":null,"scale":{"domain":[-1381,1579],"nice":false,"zero":false}},"y":{"field":"y","type":"quantitative","axis":null,"scale":{"domain":[-1506,1450],"nice":false,"zero":false}}}},
{"data":{"name":"a_dots"},"mark":{"type":"square","size":8,"color":"#000000","opacity":1},"encoding":{"x":{"field":"x","type":"quantitative","scale":{"domain":[-1381,1579],"nice":false,"zero":false},"axis":{"orient":"top","values":[-1000,-500,0,500,1000,1500],"labels":false,"title":null}},"y":{"field":"y","type":"quantitative","scale":{"domain":[-1506,1450],"nice":false,"zero":false},"axis":{"orient":"right","values":[-1500,-1000,-500,0,500,1000],"labels":false,"title":null}}}}
]},
{"width":911,"height":1364,"view":{"fill":"#ffffff","stroke":null},"resolve":{"axis":{"x":"independent","y":"independent"}},"layer":[
{"data":{"name":"b_black"},"mark":{"type":"rect","color":"#000000"},"encoding":{"x":{"field":"x","type":"quantitative","scale":{"domain":[-100,300],"nice":false,"zero":false},"axis":{"orient":"bottom","values":[-100,0,100,200,300],"title":"(b)","labelExpr":"replace(datum.label,'−','-')"}},"x2":{"field":"x2"},"y":{"field":"y","type":"quantitative","scale":{"domain":[-300,300],"nice":false,"zero":false},"axis":{"orient":"left","values":[-300,-200,-100,0,100,200,300],"title":null,"labelExpr":"replace(datum.label,'−','-')"}},"y2":{"field":"y2"}}},
{"data":{"name":"b_dots"},"mark":{"type":"square","size":7,"color":"#000000","opacity":1},"encoding":{"x":{"field":"x","type":"quantitative","scale":{"domain":[-100,300],"nice":false,"zero":false},"axis":{"orient":"top","values":[-100,0,100,200,300],"labels":false,"title":null}},"y":{"field":"y","type":"quantitative","scale":{"domain":[-300,300],"nice":false,"zero":false},"axis":{"orient":"right","values":[-300,-200,-100,0,100,200,300],"labels":false,"title":null}}}}
]}
]}
